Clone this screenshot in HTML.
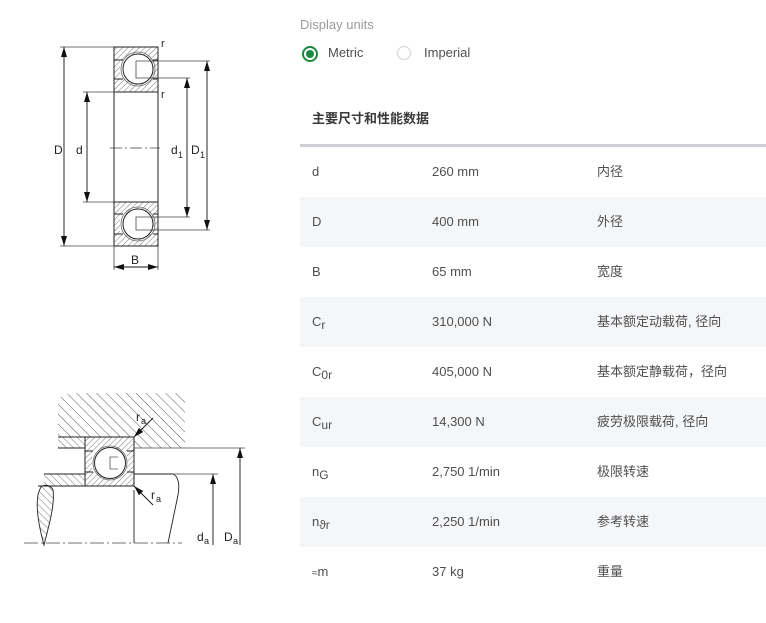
<!DOCTYPE html>
<html>
<head>
<meta charset="utf-8">
<style>
  html,body{margin:0;padding:0;background:#fff;}
  body{width:766px;height:623px;position:relative;overflow:hidden;font-family:"Liberation Sans","Noto Sans CJK SC",sans-serif;color:#4f4f4f;}
  .abs{position:absolute;white-space:nowrap;line-height:16px;}
  .du{left:300px;top:17px;font-size:13px;color:#9a9a9a;}
  .radio{position:absolute;width:12px;height:12px;border-radius:50%;}
  .r1{left:302px;top:46px;border:2px solid #198a3e;}
  .r1::after{content:"";position:absolute;left:2px;top:2px;width:8px;height:8px;border-radius:50%;background:#198a3e;}
  .r2{left:397px;top:46px;border:1.5px solid #cfd2d6;}
  .lab{font-size:13px;color:#4f4f4f;top:45px;}
  .hdr{left:312px;top:111px;font-size:13px;font-weight:bold;color:#3a3a3a;}
  .line{position:absolute;left:300px;top:144px;width:466px;height:3px;background:#cdd1d6;}
  .row{position:absolute;left:300px;width:466px;height:50px;font-size:13px;color:#4f4f4f;}
  .row.g{background:#f5f6f8;}
  .row > span{position:absolute;top:17px;white-space:nowrap;line-height:16px;}
  .c1{left:12px;} .c2{left:132px;} .c3{left:297px;}
  sub{font-size:12px;vertical-align:-3px;line-height:0;}
  .svg{position:absolute;left:0;top:0;}
  svg text{font-family:"Liberation Sans",sans-serif;fill:#222;}
</style>
</head>
<body>

<svg class="svg" width="300" height="623" viewBox="0 0 300 623">
  <defs>
    <pattern id="h1" patternUnits="userSpaceOnUse" width="4" height="4" patternTransform="rotate(45)">
      <line x1="0" y1="0" x2="0" y2="4" stroke="#555" stroke-width="0.8"/>
    </pattern>
    <pattern id="h2" patternUnits="userSpaceOnUse" width="7" height="7" patternTransform="rotate(-45)">
      <line x1="0" y1="0" x2="0" y2="7" stroke="#444" stroke-width="0.9"/>
    </pattern>
    <pattern id="h3" patternUnits="userSpaceOnUse" width="5" height="5" patternTransform="rotate(-45)">
      <line x1="0" y1="0" x2="0" y2="5" stroke="#555" stroke-width="0.8"/>
    </pattern>
    <marker id="ar" markerWidth="10" markerHeight="6" refX="10" refY="3" orient="auto" markerUnits="userSpaceOnUse">
      <path d="M0,0 L10,3 L0,6 Z" fill="#111"/>
    </marker>
  </defs>

  <!-- ===== TOP BEARING ===== -->
  <g stroke="#222" stroke-width="1" fill="none">
    <rect x="114" y="47" width="44" height="13" fill="url(#h1)" stroke="none"/>
    <rect x="114" y="79" width="44" height="13" fill="url(#h1)" stroke="none"/>
    <rect x="114" y="60" width="6" height="19" fill="url(#h1)" stroke="none"/>
    <rect x="152" y="60" width="6" height="19" fill="url(#h1)" stroke="none"/>
    <circle cx="138" cy="69" r="17" fill="none" stroke="#666" stroke-width="0.8"/>
    <circle cx="138" cy="69" r="15" fill="#fff" stroke="#222"/>
    <path d="M114 47 H158 V92 H114 Z"/>
    <line x1="114" y1="60" x2="123" y2="60"/>
    <line x1="153" y1="60" x2="158" y2="60"/>
    <line x1="114" y1="79" x2="123" y2="79"/>
    <line x1="153" y1="79" x2="158" y2="79"/>

    <rect x="114" y="202" width="44" height="12" fill="url(#h1)" stroke="none"/>
    <rect x="114" y="234" width="44" height="12" fill="url(#h1)" stroke="none"/>
    <rect x="114" y="214" width="6" height="20" fill="url(#h1)" stroke="none"/>
    <rect x="152" y="214" width="6" height="20" fill="url(#h1)" stroke="none"/>
    <circle cx="138" cy="224" r="17" fill="none" stroke="#666" stroke-width="0.8"/>
    <circle cx="138" cy="224" r="15" fill="#fff" stroke="#222"/>
    <path d="M114 202 H158 V246 H114 Z"/>
    <line x1="114" y1="214" x2="123" y2="214"/>
    <line x1="153" y1="214" x2="158" y2="214"/>
    <line x1="114" y1="234" x2="123" y2="234"/>
    <line x1="153" y1="234" x2="158" y2="234"/>

    <line x1="114" y1="92" x2="114" y2="202"/>
    <line x1="158" y1="92" x2="158" y2="202"/>
  </g>
  <g stroke="#444" stroke-width="0.8" fill="none">
    <path d="M210 61 H136 V78 H190"/>
    <path d="M190 217 H136 V230 H210"/>
    <line x1="114" y1="47" x2="60" y2="47"/>
    <line x1="114" y1="246" x2="60" y2="246"/>
    <line x1="114" y1="92" x2="83" y2="92"/>
    <line x1="114" y1="202" x2="83" y2="202"/>
    <line x1="114" y1="246" x2="114" y2="270"/>
    <line x1="158" y1="246" x2="158" y2="270"/>
    <line x1="110" y1="148" x2="160" y2="148" stroke-dasharray="12,3,2,3"/>
  </g>
  <g stroke="#111" stroke-width="0.9">
    <line x1="64" y1="148" x2="64" y2="47" marker-end="url(#ar)"/>
    <line x1="64" y1="148" x2="64" y2="246" marker-end="url(#ar)"/>
    <line x1="87" y1="148" x2="87" y2="92" marker-end="url(#ar)"/>
    <line x1="87" y1="148" x2="87" y2="202" marker-end="url(#ar)"/>
    <line x1="187" y1="148" x2="187" y2="78" marker-end="url(#ar)"/>
    <line x1="187" y1="148" x2="187" y2="217" marker-end="url(#ar)"/>
    <line x1="207" y1="148" x2="207" y2="61" marker-end="url(#ar)"/>
    <line x1="207" y1="148" x2="207" y2="230" marker-end="url(#ar)"/>
    <line x1="136" y1="267" x2="114" y2="267" marker-end="url(#ar)"/>
    <line x1="136" y1="267" x2="158" y2="267" marker-end="url(#ar)"/>
  </g>
  <g font-size="12">
    <text x="54" y="154">D</text>
    <text x="76" y="154">d</text>
    <text x="171" y="154">d</text><text x="178" y="158" font-size="9">1</text>
    <text x="191" y="154">D</text><text x="200" y="158" font-size="9">1</text>
    <text x="161" y="47" font-size="11">r</text>
    <text x="161" y="98" font-size="11">r</text>
    <text x="131" y="264">B</text>
  </g>

  <!-- ===== BOTTOM MOUNTING DIAGRAM ===== -->
  <path d="M58 398 L70 393 L185 393 L185 448 L134 448 L134 437 L58 437 Z" fill="url(#h2)"/>
  <rect x="58" y="437" width="27" height="11" fill="url(#h3)"/>
  <g stroke="#222" stroke-width="1" fill="none">
    <line x1="58" y1="437" x2="85" y2="437"/>
    <line x1="58" y1="448" x2="85" y2="448"/>
    <line x1="134" y1="448" x2="245" y2="448" stroke="#444" stroke-width="0.8"/>
  </g>
  <rect x="44" y="474" width="41" height="12" fill="url(#h3)"/>
  <rect x="85" y="437" width="49" height="14" fill="url(#h1)"/>
  <rect x="85" y="472" width="49" height="14" fill="url(#h1)"/>
  <rect x="85" y="451" width="7" height="21" fill="url(#h1)"/>
  <rect x="127" y="451" width="7" height="21" fill="url(#h1)"/>
  <circle cx="110" cy="463" r="17" fill="none" stroke="#666" stroke-width="0.8"/>
  <circle cx="110" cy="463" r="15.5" fill="#fff" stroke="#222"/>
  <path d="M118 457 H110 V469 H118" fill="none" stroke="#555" stroke-width="0.8"/>
  <g stroke="#222" stroke-width="1" fill="none">
    <rect x="85" y="437" width="49" height="49"/>
    <line x1="85" y1="451" x2="93" y2="451"/>
    <line x1="127" y1="451" x2="134" y2="451"/>
    <line x1="85" y1="472" x2="93" y2="472"/>
    <line x1="127" y1="472" x2="134" y2="472"/>
    <line x1="44" y1="474" x2="85" y2="474"/>
    <line x1="134" y1="474" x2="173" y2="474"/>
    <line x1="38" y1="486" x2="85" y2="486"/>
    <path d="M173 474 C178 476 180 484 178 495 L168 543" stroke-width="0.9"/>
    <line x1="134" y1="490" x2="134" y2="543" stroke-width="0.9"/>
  </g>
  <line x1="173" y1="474" x2="218" y2="474" stroke="#444" stroke-width="0.8"/>
  <path d="M41 487 C36 495 35 512 44 545 C49 525 55 505 53 490 C51 485 44 484 41 487 Z" fill="url(#h3)" stroke="#222" stroke-width="0.9"/>
  <line x1="24" y1="543" x2="182" y2="543" stroke="#444" stroke-width="0.8" stroke-dasharray="14,3,2,3"/>
  <g stroke="#111" stroke-width="0.9">
    <line x1="240" y1="545" x2="240" y2="448" marker-end="url(#ar)"/>
    <line x1="213" y1="545" x2="213" y2="474" marker-end="url(#ar)"/>
    <line x1="153" y1="418" x2="134" y2="437" marker-end="url(#ar)"/>
    <line x1="153" y1="505" x2="134" y2="486" marker-end="url(#ar)"/>
  </g>
  <g font-size="12">
    <text x="136" y="421">r</text><text x="141" y="424" font-size="9">a</text>
    <text x="151" y="499">r</text><text x="156" y="502" font-size="9">a</text>
    <text x="197" y="541">d</text><text x="204" y="544" font-size="9">a</text>
    <text x="224" y="541">D</text><text x="233" y="544" font-size="9">a</text>
  </g>
</svg>

<div class="abs du">Display units</div>
<div class="radio r1"></div>
<div class="abs lab" style="left:328px;">Metric</div>
<div class="radio r2"></div>
<div class="abs lab" style="left:424px;">Imperial</div>

<div class="abs hdr">主要尺寸和性能数据</div>
<div class="line"></div>

<div class="row" style="top:147px;"><span class="c1">d</span><span class="c2">260 mm</span><span class="c3">内径</span></div>
<div class="row g" style="top:197px;"><span class="c1">D</span><span class="c2">400 mm</span><span class="c3">外径</span></div>
<div class="row" style="top:247px;"><span class="c1">B</span><span class="c2">65 mm</span><span class="c3">宽度</span></div>
<div class="row g" style="top:297px;"><span class="c1">C<sub>r</sub></span><span class="c2">310,000 N</span><span class="c3">基本额定动载荷, 径向</span></div>
<div class="row" style="top:347px;"><span class="c1">C<sub>0r</sub></span><span class="c2">405,000 N</span><span class="c3">基本额定静载荷，径向</span></div>
<div class="row g" style="top:397px;"><span class="c1">C<sub>ur</sub></span><span class="c2">14,300 N</span><span class="c3">疲劳极限载荷, 径向</span></div>
<div class="row" style="top:447px;"><span class="c1">n<sub>G</sub></span><span class="c2">2,750 1/min</span><span class="c3">极限转速</span></div>
<div class="row g" style="top:497px;"><span class="c1">n<sub>ϑr</sub></span><span class="c2">2,250 1/min</span><span class="c3">参考转速</span></div>
<div class="row" style="top:547px;"><span class="c1"><span style="font-size:10px;">≈</span>m</span><span class="c2">37 kg</span><span class="c3">重量</span></div>

</body>
</html>
